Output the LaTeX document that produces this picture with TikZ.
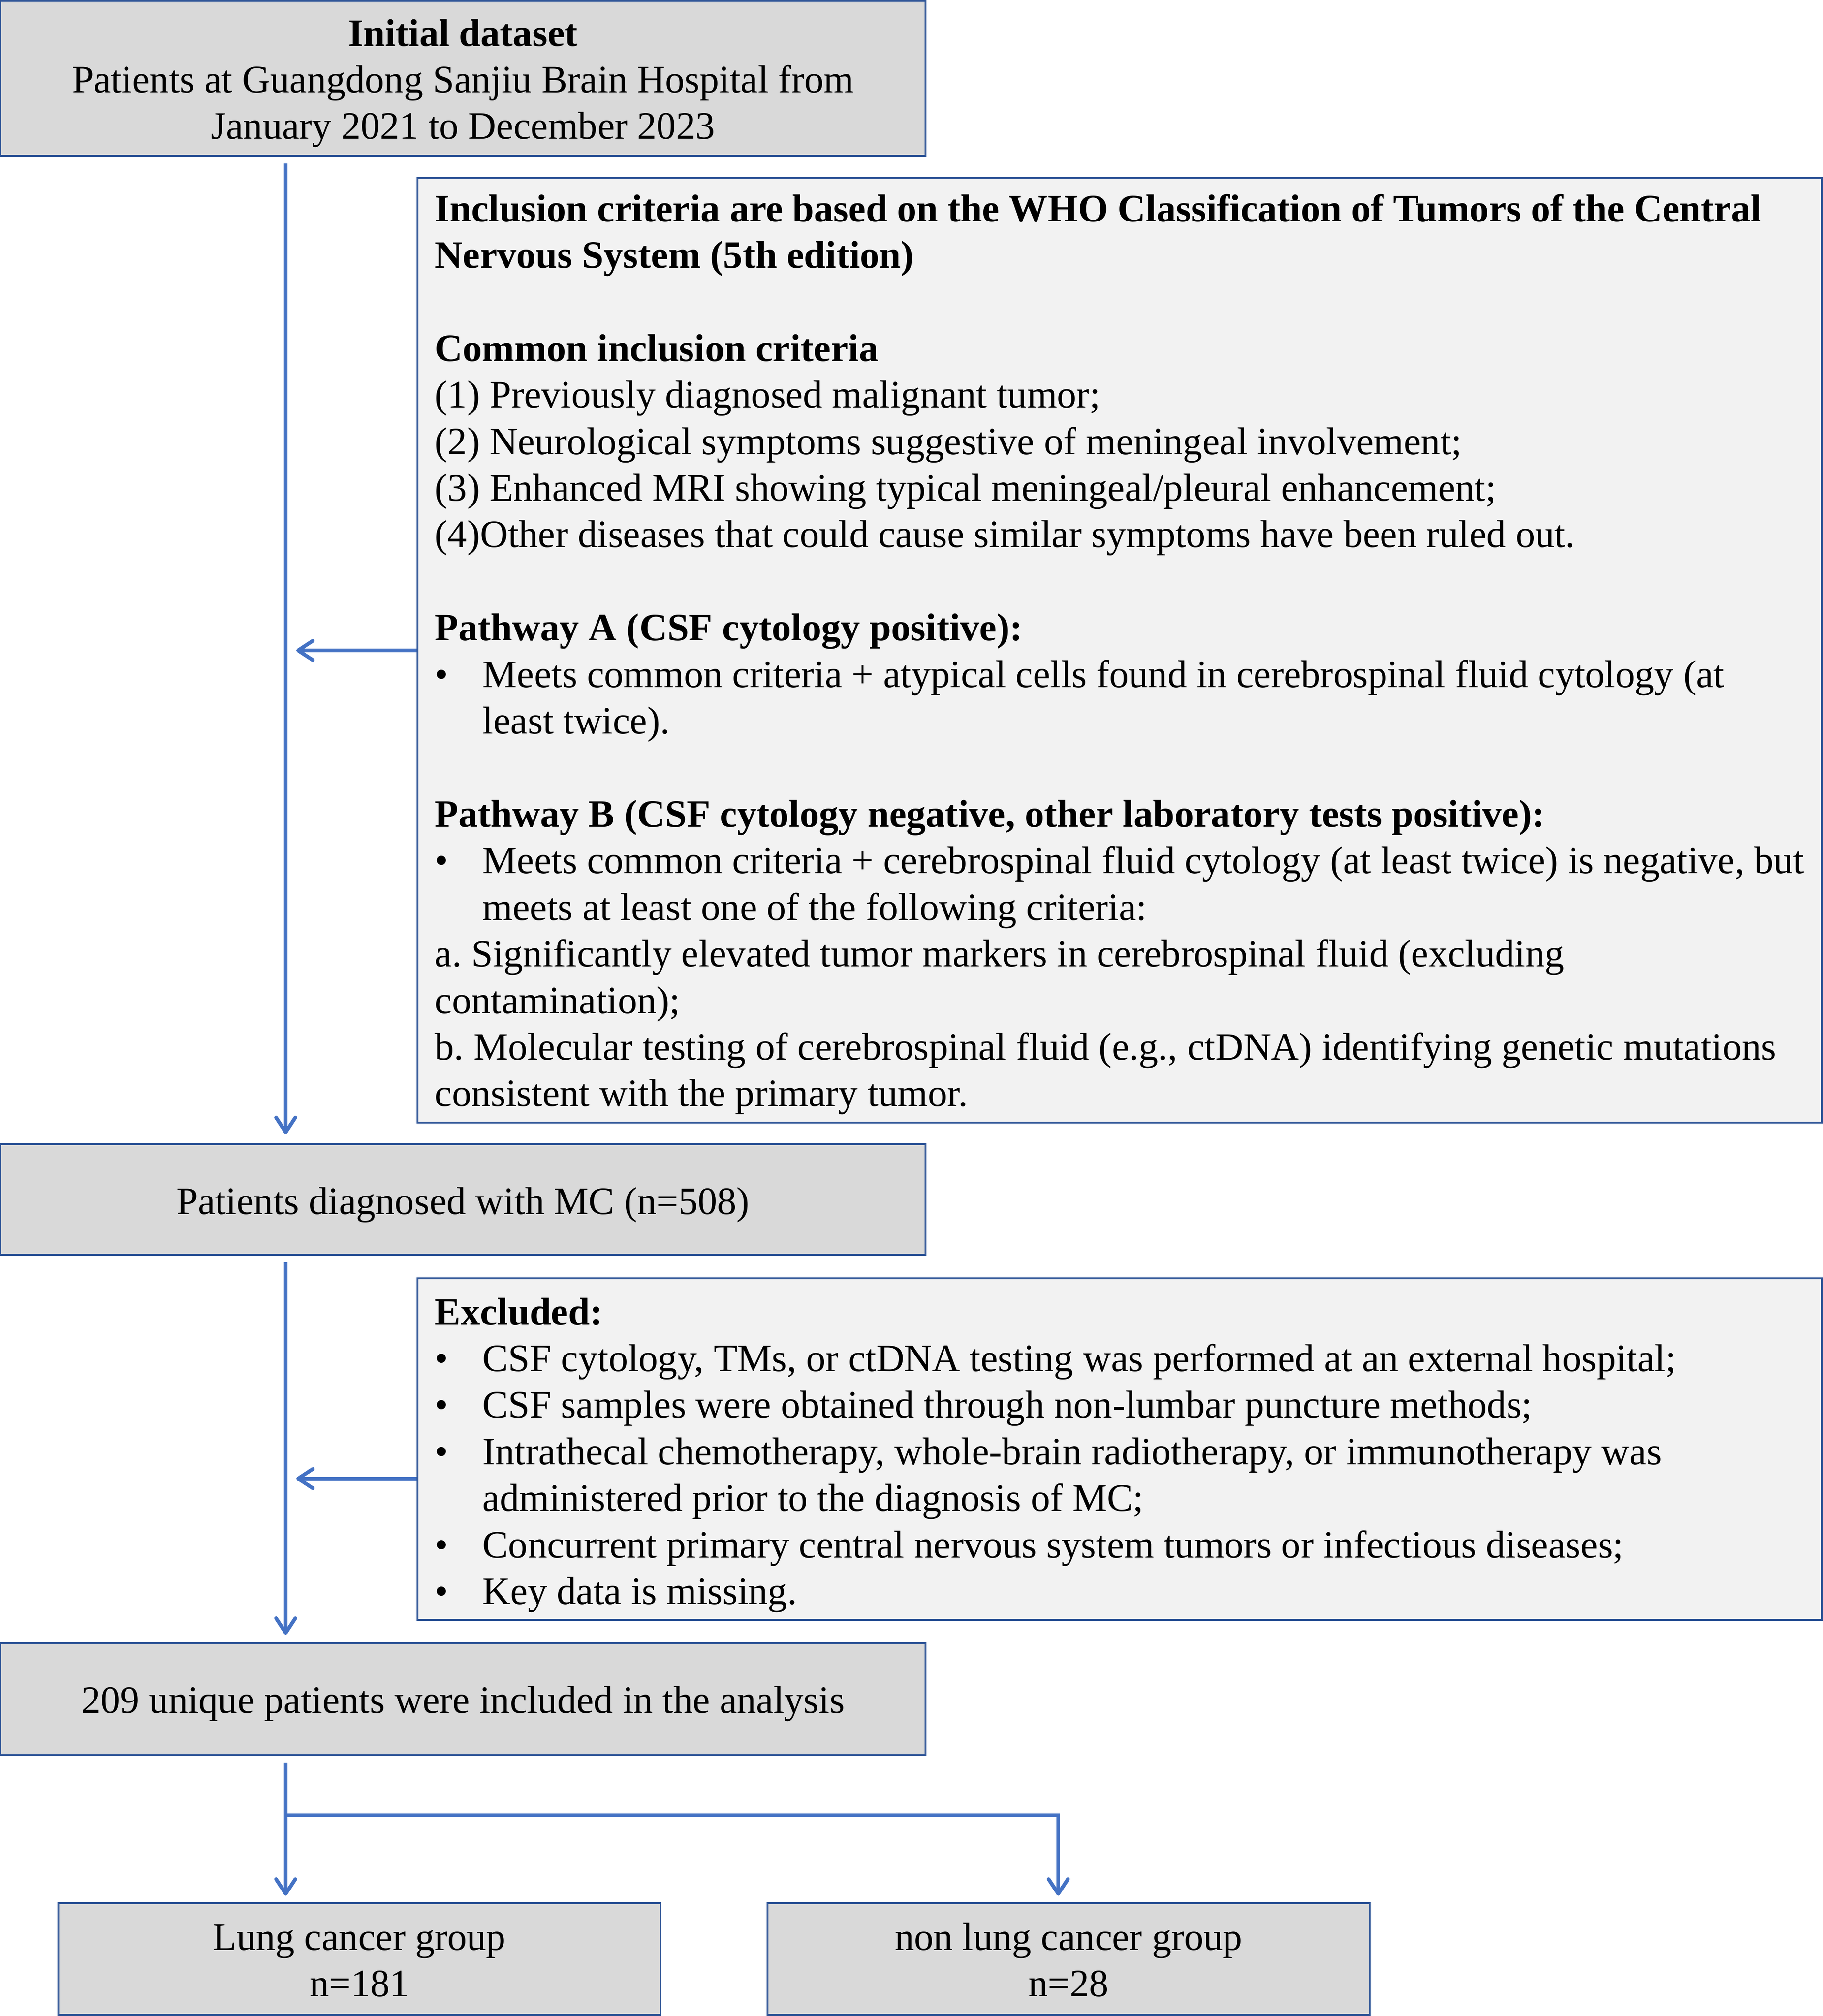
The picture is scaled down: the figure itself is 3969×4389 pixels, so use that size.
\documentclass[tikz,border=0pt]{standalone}
\usepackage{fontspec}
\setmainfont{Liberation Serif}
\usetikzlibrary{arrows.meta}
\definecolor{bordblue}{HTML}{2F5597}
\definecolor{arrblue}{HTML}{4472C4}
\definecolor{boxgrey}{HTML}{D9D9D9}
\definecolor{critgrey}{HTML}{F2F2F2}
\newcommand{\bul}{\makebox[1.04cm][l]{\textbullet}}
\newcommand{\hang}{\hspace*{1.04cm}}
\newcommand{\gap}{\\[28.84pt]}
\frenchspacing
\begin{document}
\begin{tikzpicture}[x=0.01cm,y=-0.01cm,
  mainbox/.style={rectangle, draw=bordblue, fill=boxgrey, line width=0.04cm, inner sep=0pt},
  critbox/.style={rectangle, draw=bordblue, fill=critgrey, line width=0.04cm, inner sep=0pt},
  flow/.style={draw=arrblue, line width=0.08cm, -{Straight Barb[length=0.32cm,width=0.42cm,round]}},
  ctxt/.style={inner sep=0pt, anchor=base, font=\fontsize{24}{28.84}\selectfont},
  ltxt/.style={inner sep=0pt, anchor=base west, font=\fontsize{24}{28.84}\selectfont},
]
\useasboundingbox (0,0) rectangle (3969,4389);

% boxes
\node[mainbox, minimum width=20.12cm, minimum height=3.37cm] (b1) at (1008,170.5) {};
\node[critbox, minimum width=30.55cm, minimum height=20.55cm] (incl) at (2437.5,1415.5) {};
\node[mainbox, minimum width=20.12cm, minimum height=2.41cm] (mc) at (1008,2611.5) {};
\node[critbox, minimum width=30.55cm, minimum height=7.44cm] (excl) at (2437.5,3155) {};
\node[mainbox, minimum width=20.12cm, minimum height=2.44cm] (b209) at (1008,3699) {};
\node[mainbox, minimum width=13.11cm, minimum height=2.43cm] (lung) at (782.5,4264.5) {};
\node[mainbox, minimum width=13.11cm, minimum height=2.43cm] (nonlung) at (2326.5,4264.5) {};

% texts
\node[ctxt] (t1) at (1008,100) {\parbox[t]{20cm}{\centering
\textbf{Initial dataset}\\
Patients at Guangdong Sanjiu Brain Hospital from\\
January 2021 to December 2023}};

\node[ltxt] (tincl) at (946,482) {\parbox[t]{32cm}{\raggedright
\textbf{Inclusion criteria are based on the WHO Classification of Tumors of the Central}\\
\textbf{Nervous System (5th edition)}\gap
\textbf{Common inclusion criteria}\\
(1) Previously diagnosed malignant tumor;\\
(2) Neurological symptoms suggestive of meningeal involvement;\\
(3) Enhanced MRI showing typical meningeal/pleural enhancement;\\
(4)Other diseases that could cause similar symptoms have been ruled out.\gap
\textbf{Pathway A (CSF cytology positive):}\\
\bul Meets common criteria + atypical cells found in cerebrospinal fluid cytology (at\\
\hang least twice).\gap
\textbf{Pathway B (CSF cytology negative, other laboratory tests positive):}\\
\bul Meets common criteria + cerebrospinal fluid cytology (at least twice) is negative, but\\
\hang meets at least one of the following criteria:\\
a. Significantly elevated tumor markers in cerebrospinal fluid (excluding\\
contamination);\\
b. Molecular testing of cerebrospinal fluid (e.g., ctDNA) identifying genetic mutations\\
consistent with the primary tumor.}};

\node[ctxt] (tmc) at (1008,2643) {Patients diagnosed with MC (n=508)};

\node[ltxt] (texcl) at (946,2884) {\parbox[t]{32cm}{\raggedright
\textbf{Excluded:}\\
\bul CSF cytology, TMs, or ctDNA testing was performed at an external hospital;\\
\bul CSF samples were obtained through non-lumbar puncture methods;\\
\bul Intrathecal chemotherapy, whole-brain radiotherapy, or immunotherapy was\\
\hang administered prior to the diagnosis of MC;\\
\bul Concurrent primary central nervous system tumors or infectious diseases;\\
\bul Key data is missing.}};

\node[ctxt] (t209) at (1008,3729) {209 unique patients were included in the analysis};

\node[ctxt] (tlung) at (782.5,4245) {\parbox[t]{13cm}{\centering Lung cancer group\\ n=181}};
\node[ctxt] (tnon) at (2326.5,4245) {\parbox[t]{13cm}{\centering non lung cancer group\\ n=28}};

% connector coordinates
\coordinate (trunk) at (622,0);
\coordinate (rdrop) at (2304,0);
\coordinate (pa) at (645,1416);
\coordinate (pb) at (645,3219);
\coordinate (split) at (622,3952);

% connectors
\draw[flow] ([yshift=-0.15cm]b1.south -| trunk) -- ([yshift=0.2cm]mc.north -| trunk);
\draw[flow] (incl.west |- pa) -- (pa);
\draw[flow] ([yshift=-0.14cm]mc.south -| trunk) -- ([yshift=0.16cm]b209.north -| trunk);
\draw[flow] (excl.west |- pb) -- (pb);
\draw[flow] ([yshift=-0.14cm]b209.south -| trunk) -- ([yshift=0.14cm]lung.north -| trunk);
\draw[flow] (split) -| ([yshift=0.14cm]nonlung.north -| rdrop);
\end{tikzpicture}
\end{document}
